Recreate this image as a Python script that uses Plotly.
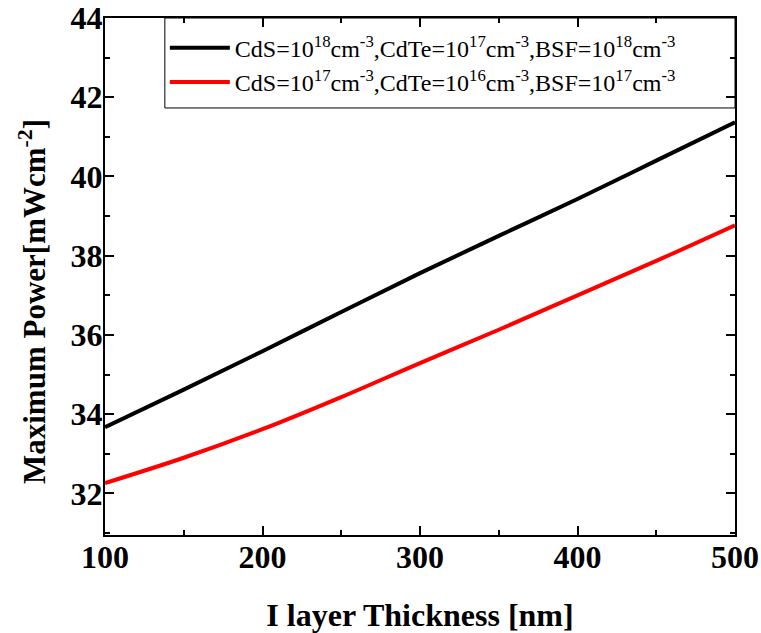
import plotly.graph_objects as go

thickness = [100, 150, 200, 250, 300, 350, 400, 450, 500]
power_high = [33.67, 34.62, 35.59, 36.58, 37.56, 38.50, 39.43, 40.40, 41.37]
power_low = [32.26, 32.90, 33.62, 34.43, 35.29, 36.13, 37.00, 37.87, 38.77]

name_high = "CdS=10<sup>18</sup>cm<sup>-3</sup>,CdTe=10<sup>17</sup>cm<sup>-3</sup>,BSF=10<sup>18</sup>cm<sup>-3</sup>"
name_low = "CdS=10<sup>17</sup>cm<sup>-3</sup>,CdTe=10<sup>16</sup>cm<sup>-3</sup>,BSF=10<sup>17</sup>cm<sup>-3</sup>"
x_title = "I layer Thickness [nm]"
y_title = "Maximum Power[mWcm<sup>-2</sup>]"

fig = go.Figure()
fig.add_trace(go.Scatter(x=thickness, y=power_high, mode="lines", name=name_high,
                         line=dict(color="black", width=4, shape="spline")))
fig.add_trace(go.Scatter(x=thickness, y=power_low, mode="lines", name=name_low,
                         line=dict(color="#ff0000", width=4, shape="spline")))

font_family = "Liberation Serif"
axis_common = dict(
    showline=True, linecolor="black", linewidth=2, mirror="ticks",
    ticks="inside", ticklen=9, tickwidth=2, tickcolor="black",
    showgrid=False, zeroline=False, automargin=False,
    ticklabeloverflow="allow",
    tickfont=dict(family=font_family, size=32, color="black", weight="bold"),
)

fig.update_xaxes(
    range=[100, 500], tickvals=[100, 200, 300, 400, 500],
    minor=dict(tickvals=[150, 250, 350, 450], ticks="inside", ticklen=5, tickwidth=2, tickcolor="black"),
    ticklabelstandoff=-7,
    title=dict(text=x_title, standoff=32,
               font=dict(family=font_family, size=32, color="black", weight="bold")),
    **axis_common,
)
fig.update_yaxes(
    range=[30.95, 44], tickvals=[32, 34, 36, 38, 40, 42, 44],
    minor=dict(tickvals=[31, 33, 35, 37, 39, 41, 43], ticks="inside", ticklen=5, tickwidth=2, tickcolor="black"),
    ticklabelstandoff=-6,
    **axis_common,
)

fig.add_annotation(
    text=y_title, xref="paper", yref="paper", x=-0.114, y=0.451,
    xanchor="center", yanchor="middle", textangle=-90, showarrow=False,
    font=dict(family=font_family, size=31, color="black", weight="bold"),
)

fig.add_shape(type="rect", xref="paper", yref="paper",
              x0=0.095, x1=1.0, y0=0.826, y1=1.0,
              line=dict(color="black", width=1), fillcolor="rgba(0,0,0,0)", layer="above")

fig.update_layout(
    width=761, height=633,
    margin=dict(l=105, r=26, t=18, b=98),
    paper_bgcolor="white", plot_bgcolor="white",
    showlegend=True,
    legend=dict(x=0.095, y=0.985, xanchor="left", yanchor="top",
                borderwidth=0, bgcolor="rgba(255,255,255,0)",
                itemwidth=60,
                font=dict(family=font_family, size=24, color="black")),
)

fig.write_html(
    "out.html",
    config={"displayModeBar": False},
    post_script="document.body.style.margin='0';document.body.style.overflow='hidden';",
)
